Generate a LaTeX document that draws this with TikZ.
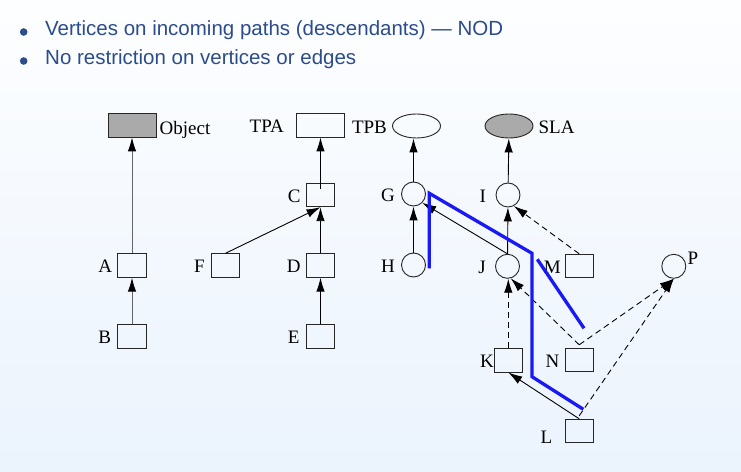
\documentclass[tikz,border=0pt]{standalone}
\usepackage{fontspec}
\setmainfont{Liberation Serif}
\newfontfamily\bulletfont{Liberation Sans}
\usetikzlibrary{arrows.meta,shapes.geometric,calc}
\definecolor{bgtop}{RGB}{253,254,255}
\definecolor{bgbot}{RGB}{235,243,253}
\definecolor{txtblue}{RGB}{44,76,140}
\definecolor{hiblue}{RGB}{25,25,245}
\definecolor{boxgray}{RGB}{170,170,170}
\begin{document}
\begin{tikzpicture}[x=1bp,y=-1bp,
  every node/.style={font=\fontsize{19bp}{22bp}\selectfont},
  every label/.style={inner sep=0pt, yshift=-1.2bp},
  vbox/.style={draw=black!85, line width=0.9bp, minimum width=28.5bp, minimum height=23.5bp, inner sep=0pt},
  wbox/.style={vbox, minimum width=48bp, minimum height=24bp},
  vcirc/.style={circle, draw=black!85, line width=0.9bp, minimum size=24bp, inner sep=0pt},
  vell/.style={ellipse, draw=black!85, line width=0.9bp, minimum width=48bp, minimum height=24bp, inner sep=0pt},
  arr/.style={line width=0.9bp, -{Latex[length=14bp,width=8.5bp,color=black]}},
  garr/.style={arr, draw=black!60},
  darr/.style={arr, dash pattern=on 6bp off 4bp},
  hl/.style={draw=hiblue, line width=3.3bp, line join=miter},
  bullettext/.style={anchor=base west, inner sep=0pt, text=txtblue, font=\bulletfont\fontsize{20.5bp}{24bp}\selectfont},
  bulletdot/.style={circle, fill=txtblue, minimum size=7.6bp, inner sep=0pt},
]
\fill[top color=bgtop, bottom color=bgbot] (0,0) rectangle (741,472);
\useasboundingbox (0,0) rectangle (741,472);

% bullet list
\node[bulletdot] (d1) at (23.7,32) {};
\node[bullettext] (t1) at (45,36) {Vertices on incoming paths (descendants) — NOD};
\node[bulletdot] (d2) at (23.7,61) {};
\node[bullettext] (t2) at (45,64.5) {No restriction on vertices or edges};

% top row
\node[wbox, fill=boxgray, label={[label distance=3bp, yshift=-3.5bp]right:Object}] (obj) at (132,125) {};
\node[wbox, label={[label distance=12bp]left:TPA}] (TPA) at (320.5,125) {};
\node[vell, label={[label distance=5bp]left:TPB}] (TPB) at (416.5,126) {};
\node[vell, fill=boxgray, label={[label distance=5bp]right:SLA}] (SLA) at (509,126) {};

% left tree
\node[vbox, label={[label distance=5bp]left:A}] (A) at (132,265.5) {};
\node[vbox, label={[label distance=6bp]left:B}] (B) at (132,336.5) {};
\node[vbox, label={[label distance=5bp]left:C}] (C) at (320.5,195) {};
\node[vbox, label={[label distance=6bp]left:F}] (F) at (225.5,265.5) {};
\node[vbox, label={[label distance=5bp]left:D}] (D) at (320.5,265.5) {};
\node[vbox, label={[label distance=6bp]left:E}] (E) at (320.5,336.5) {};

% right part
\node[vcirc, label={[label distance=6bp]left:G}] (G) at (413.5,194) {};
\node[vcirc, label={[label distance=6bp]left:H}] (H) at (413.5,265) {};
\node[vcirc, label={[label distance=9.5bp]left:I}] (I) at (508,195) {};
\node[vcirc, label={[label distance=9bp]left:J}] (J) at (507.5,266.3) {};
\node[vbox, label={[label distance=3.5bp]left:M}] (M) at (579.2,266) {};
\node[vcirc, label={[anchor=south west, label distance=1.5bp]10:P}] (P) at (673.8,266.3) {};
\node[vbox, label={[label distance=-0.5bp]left:K}] (K) at (508.3,360.3) {};
\node[vbox, label={[label distance=5bp]left:N}] (N) at (579.2,360) {};
\node[vbox, label={[xshift=-12bp, yshift=-5.5bp]left:L}] (L) at (579.2,431) {};

% edges
\draw[garr] (A) -- (obj);
\draw[garr] (B) -- (A);
\draw[arr] ([yshift=6bp]C.center) -- (TPA.south);
\draw[arr] (F.north) -- (C.south);
\draw[arr] (D) -- (C);
\draw[arr] (E) -- (D);
\draw[arr] (G.north) -- (G.north |- TPB.south);
\draw[arr] (H) -- (G);
\draw[arr] (J.north) -- (G.-45);
\draw[arr] (J) -- (I);
\draw[arr] (I) -- (SLA);
\draw[darr] (M.north) -- (I.-62);
\draw[darr] (K.north) -- (K.north |- J.south);
\draw[darr] ([yshift=3bp]N.north) -- (J.-75);
\draw[darr] ([yshift=3bp]N.north) -- (P.south);
\draw[darr] ([yshift=3bp]L.north) -- (P.south);
\draw[arr] (L.north) -- (K.south);

% highlighted paths
\coordinate (h1) at (429.3,268.3);
\coordinate (h2) at (429.3,193.3);
\coordinate (h3) at (532,253.3);
\coordinate (h4) at (532,376.7);
\coordinate (h5) at (583.3,409.3);
\coordinate (h6) at (537.3,259.3);
\coordinate (h7) at (584,328.3);
\draw[hl] (h1) -- (h2) -- (h3) -- (h4) -- (h5);
\draw[hl] (h6) -- (h7);
\end{tikzpicture}
\end{document}
